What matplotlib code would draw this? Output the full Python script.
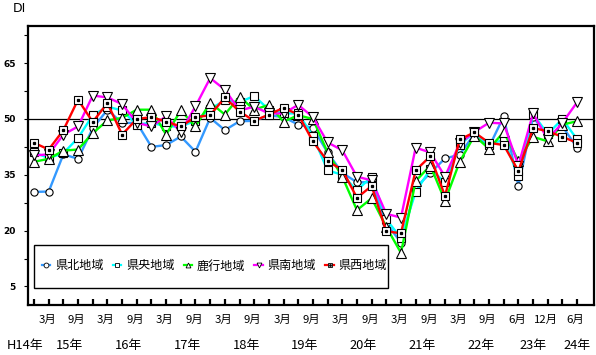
import numpy as np
import matplotlib.pyplot as plt
from matplotlib.patches import Rectangle
from matplotlib.lines import Line2D
from matplotlib.transforms import blended_transform_factory

plt.rcParams['font.family'] = ['Noto Sans CJK JP', 'DejaVu Sans']

# survey points: quarterly from H14.12 to H24.6 (no H23.3 survey)
periods = ['H14.12',
           'H15.3', 'H15.6', 'H15.9', 'H15.12',
           'H16.3', 'H16.6', 'H16.9', 'H16.12',
           'H17.3', 'H17.6', 'H17.9', 'H17.12',
           'H18.3', 'H18.6', 'H18.9', 'H18.12',
           'H19.3', 'H19.6', 'H19.9', 'H19.12',
           'H20.3', 'H20.6', 'H20.9', 'H20.12',
           'H21.3', 'H21.6', 'H21.9', 'H21.12',
           'H22.3', 'H22.6', 'H22.9', 'H22.12',
           'H23.6', 'H23.9', 'H23.12',
           'H24.3', 'H24.6']

kenpoku = [30.4, 30.5, 40.5, 39.3, 47.5, 52.5, 48.9, 49.0, 42.5, 43.0,
           45.3, 41.2, 50.3, 47.0, 49.4, 49.5, 51.0, 50.5, 48.5, 47.6,
           41.0, 35.5, 33.0, 33.0, 22.0, 16.8, 31.5, 35.5, 39.4, 40.4,
           46.0, 42.5, 50.7, 32.0, 50.5, 45.5, 48.0, 42.3]
kenou = [41.0, 39.5, 40.8, 44.9, 51.0, 53.3, 52.3, 48.5, 49.0, 48.0,
         48.0, 49.5, 52.7, 55.0, 54.5, 56.2, 52.5, 51.5, 51.5, 45.4,
         36.2, 35.0, 30.8, 34.5, 23.0, 18.0, 30.4, 36.5, 33.0, 43.0,
         46.5, 43.0, 44.5, 34.6, 51.3, 46.0, 50.0, 44.5]
rokkou = [38.5, 39.3, 41.5, 41.8, 46.2, 49.6, 50.3, 52.5, 52.5, 45.8,
          52.3, 48.0, 54.4, 51.2, 56.0, 52.5, 53.8, 49.3, 51.0, 50.0,
          41.0, 34.5, 25.5, 28.7, 21.0, 14.0, 33.3, 37.5, 28.0, 38.5,
          45.5, 42.0, 46.5, 38.7, 45.2, 44.0, 48.5, 49.4]
kennan = [40.2, 40.5, 45.8, 48.0, 56.3, 55.8, 54.0, 49.0, 48.0, 50.7,
          46.5, 53.4, 61.0, 57.9, 52.3, 53.3, 51.5, 51.5, 53.8, 50.5,
          43.7, 41.6, 34.5, 33.5, 24.5, 23.5, 42.3, 41.0, 34.5, 43.5,
          46.5, 49.0, 48.8, 37.5, 51.5, 44.5, 49.0, 54.5]
kensei = [43.6, 41.8, 47.0, 55.2, 49.2, 54.3, 45.8, 50.0, 50.5, 49.3,
          48.0, 50.5, 51.0, 55.8, 52.0, 49.5, 51.2, 53.0, 51.2, 44.0,
          38.6, 36.4, 28.8, 32.0, 19.8, 19.3, 36.2, 40.0, 29.3, 44.5,
          46.4, 43.6, 43.0, 36.0, 47.6, 46.7, 45.2, 43.6]

region_names = ['県北地域', '県央地域', '鹿行地域', '県南地域', '県西地域']

month_label_periods = ['H15.3', 'H15.9', 'H16.3', 'H16.9', 'H17.3', 'H17.9',
                       'H18.3', 'H18.9', 'H19.3', 'H19.9', 'H20.3', 'H20.9',
                       'H21.3', 'H21.9', 'H22.3', 'H22.9', 'H23.6', 'H23.12',
                       'H24.6']
year_labels = ['H14年', '15年', '16年', '17年', '18年', '19年', '20年',
               '21年', '22年', '23年', '24年']
year_anchor = ['H14.12', 'H15.6', 'H16.6', 'H17.6', 'H18.6', 'H19.6',
               'H20.6', 'H21.6', 'H22.6', 'H23.9', 'H24.6']

x = np.arange(len(periods))

fig = plt.figure(figsize=(5.96, 3.55), dpi=100)
ax = fig.add_axes([28 / 596, 1 - 305 / 355, 566 / 596, 279 / 355])

colors = ['#3399ff', '#00ffff', '#00ff00', '#ff00ff', '#ff0000']
markers = ['o', 's', '^', 'v', 's']
msizes = [5.2, 5.8, 6.5, 6.5, 5.8]
series = [kenpoku, kenou, rokkou, kennan, kensei]

ax.axhline(50, color='black', lw=0.9, zorder=1)

handles = []
for vals, c, m, ms in zip(series, colors, markers, msizes):
    ax.plot(x, vals, color=c, lw=1.7, marker=m, ms=ms,
            mfc='white', mec='black', mew=0.8, zorder=2)
    handles.append(Line2D([], [], color=c, lw=1.6, marker=m, ms=3.5,
                          mfc='white', mec='black', mew=0.6))
# dot inside the 県西 squares
ax.plot(x, kensei, ls='none', marker='s', ms=1.4, color='black', zorder=3)
dot = Line2D([], [], ls='none', marker='s', ms=0.9, color='black')
handles[-1] = (handles[-1], dot)

ax.set_xlim(-0.41, 38.15)
ax.set_ylim(0, 75)
ax.set_yticks([5, 20, 35, 50, 65])
ax.set_yticks([12.5, 27.5, 42.5, 57.5, 72.5], minor=True)
ax.tick_params(axis='y', which='both', direction='out', length=3, width=0.8,
               pad=6)
ax.tick_params(axis='y', labelsize=6.5)
for lab in ax.get_yticklabels():
    lab.set_fontweight('bold')
    lab.set_family('DejaVu Sans')
ax.set_xticks(x)
ax.tick_params(axis='x', direction='in', length=4, width=1.6,
               labelbottom=False)
for sp in ax.spines.values():
    sp.set_linewidth(1.6)

# legend box
ax.add_patch(Rectangle((0.0106, 0.061), 0.625, 0.154, transform=ax.transAxes,
                       facecolor='white', edgecolor='black', lw=1.0,
                       zorder=5))
leg = ax.legend(handles, region_names, loc='center left',
                bbox_to_anchor=(0.016, 0.14), ncol=5, frameon=False,
                fontsize=8.7, handlelength=0.7, handletextpad=0.4,
                columnspacing=0.75, borderaxespad=0)
leg.set_zorder(6)

# x labels
tr = blended_transform_factory(ax.transData, fig.transFigure)
for p in month_label_periods:
    i = periods.index(p)
    fig.text(i - 0.1, 1 - 320 / 355, p.split('.')[1] + '月', transform=tr,
             ha='center', va='center', fontsize=8.2)
for lab, p in zip(year_labels, year_anchor):
    i = periods.index(p)
    if lab.startswith('H'):
        i -= 0.6
    elif p.endswith('.6') and p != 'H24.6':
        i += 0.45
    fig.text(i, 1 - 345 / 355, lab, transform=tr, ha='center', va='center',
             fontsize=9.3)

fig.text(19 / 596, 1 - 9 / 355, 'DI', ha='center', va='center', fontsize=9,
         family='DejaVu Sans')

fig.savefig('out.png', dpi=100)
